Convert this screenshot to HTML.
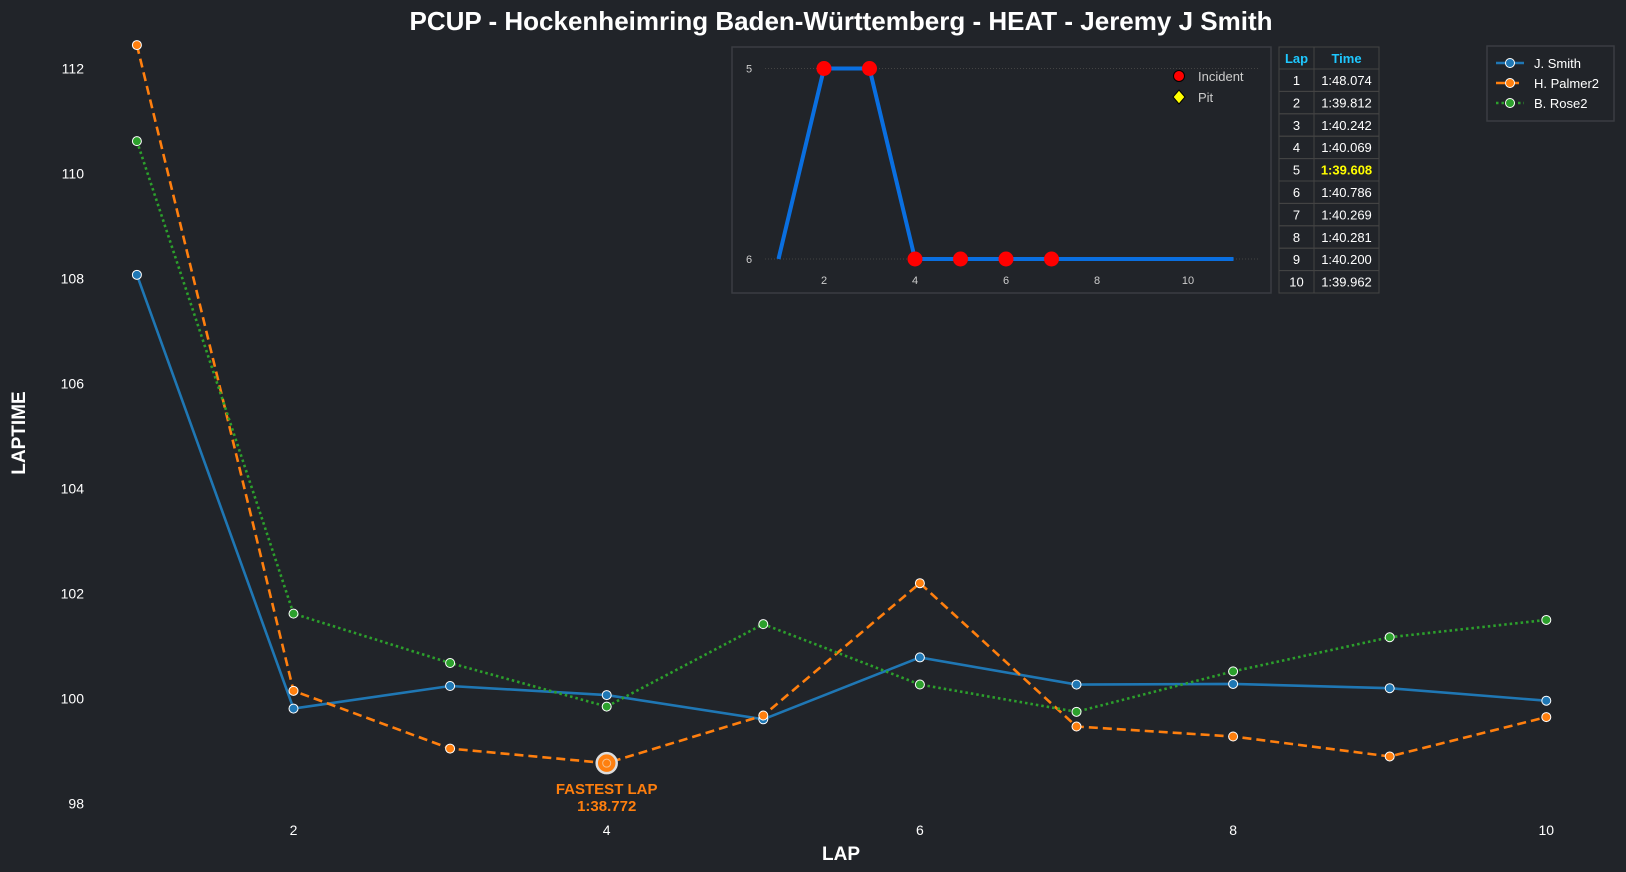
<!DOCTYPE html>
<html><head><meta charset="utf-8"><style>
body{margin:0;background:#212429;}
svg{display:block;font-family:"Liberation Sans",sans-serif;}
</style></head><body>
<svg id="c" width="1626" height="872" viewBox="0 0 1626 872">
<rect width="1626" height="872" fill="#212429"/>
<text x="841" y="30" text-anchor="middle" font-size="26" font-weight="bold" fill="#fff">PCUP - Hockenheimring Baden-Württemberg - HEAT - Jeremy J Smith</text>
<text transform="translate(25,433) rotate(-90)" text-anchor="middle" font-size="19" font-weight="bold" fill="#fff">LAPTIME</text>
<text x="841" y="860" text-anchor="middle" font-size="19" font-weight="bold" fill="#fff">LAP</text>
<g id="yt"></g><g id="xt"></g><g id="series"></g><g id="inset"></g><g id="tbl"></g><g id="leg"></g>
</svg>
<script>
const laps=[1,2,3,4,5,6,7,8,9,10];
const smith=[108.074,99.812,100.242,100.069,99.608,100.786,100.269,100.281,100.200,99.962];
const palmer=[112.45,100.15,99.05,98.772,99.68,102.2,99.47,99.28,98.9,99.65];
const rose=[110.62,101.62,100.68,99.85,101.42,100.27,99.75,100.52,101.17,101.5];
const yTicks=[98,100,102,104,106,108,110,112];
const xTicks=[2,4,6,8,10];
const insetLaps=[1,2,3,4,5,6,7,8,9,10,11];
const insetPos=[6,5,5,6,6,6,6,6,6,6,6];
const incidentLaps=[2,3,4,5,6,7];
const insetXTicks=[2,4,6,8,10];
const insetYTicks=[5,6];
const tableTimes=["1:48.074","1:39.812","1:40.242","1:40.069","1:39.608","1:40.786","1:40.269","1:40.281","1:40.200","1:39.962"];
const bestIdx=4;
const fastestLap=4, fastestVal=98.772, fastestLabel="1:38.772";

const NS="http://www.w3.org/2000/svg";
function mk(t,a,p,txt){const e=document.createElementNS(NS,t);for(const k in a)e.setAttribute(k,a[k]);if(txt!==undefined)e.textContent=txt;p.appendChild(e);return e;}
const X=l=>293.5+(l-2)*156.6;
const Y=v=>698.7-(v-100)*52.5;
const yt=document.getElementById('yt'),xt=document.getElementById('xt'),sg=document.getElementById('series');
yTicks.forEach(v=>{const t=mk('text',{x:84,y:Y(v)+5,'text-anchor':'end','font-size':14,fill:'#fff'},yt,v);

});
xTicks.forEach(v=>{const t=mk('text',{x:X(v),y:835,'text-anchor':'middle','font-size':14,fill:'#fff'},xt,v);

});
const ser=[[smith,'#1f77b4','','j-smith'],[palmer,'#ff7f0e','9 5','h-palmer2'],[rose,'#2ca02c','2.5 3','b-rose2']];
ser.forEach(([d,c,da,n])=>{
 const p=mk('polyline',{points:d.map((v,i)=>X(laps[i])+','+Y(v)).join(' '),fill:'none',stroke:c,'stroke-width':2.6,'stroke-dasharray':da},sg);
 
 
 d.forEach((v,i)=>{const m=mk('circle',{cx:X(laps[i]),cy:Y(v),r:4.5,fill:c,stroke:'#fff','stroke-width':1},sg);
 
 });
});
const fm=mk('circle',{cx:X(fastestLap),cy:Y(fastestVal),r:10,fill:'#ff7f0e',stroke:'#ddd','stroke-width':2.5},sg);


mk('circle',{cx:X(fastestLap),cy:Y(fastestVal),r:4,fill:'#ff7f0e',stroke:'#f6c08a','stroke-width':1},sg);
const ft=mk('text',{x:X(fastestLap),y:Y(fastestVal)+31,'text-anchor':'middle','font-size':15,'font-weight':'bold',fill:'#ff7f0e'},sg,'FASTEST LAP');


const fv=mk('text',{x:X(fastestLap),y:Y(fastestVal)+48,'text-anchor':'middle','font-size':15,'font-weight':'bold',fill:'#ff7f0e'},sg,fastestLabel);


// inset
const ig=document.getElementById('inset');
const IX=l=>824+(l-2)*45.5, IY=p=>68.5+(p-5)*190.5;
const ib=mk('rect',{x:732,y:47,width:539,height:246,fill:'#212429',stroke:'#3a3d42','stroke-width':1.5},ig);


insetYTicks.forEach(p=>{mk('line',{x1:765,x2:1258,y1:IY(p),y2:IY(p),stroke:'#444','stroke-dasharray':'1 2'},ig);
const t=mk('text',{x:749,y:IY(p)+4,'text-anchor':'middle','font-size':11,fill:'#ccc'},ig,p);

});
insetXTicks.forEach(l=>{const t=mk('text',{x:IX(l),y:284,'text-anchor':'middle','font-size':11,fill:'#ccc'},ig,l);

});
const il=mk('polyline',{points:insetPos.map((p,i)=>IX(insetLaps[i])+','+IY(p)).join(' '),fill:'none',stroke:'#0a6fe0','stroke-width':4},ig);


incidentLaps.forEach(l=>{const c=mk('circle',{cx:IX(l),cy:IY(insetPos[insetLaps.indexOf(l)]),r:7.5,fill:'#ff0000'},ig);

});
mk('circle',{cx:1179,cy:76,r:5.5,fill:'#ff0000',stroke:'#000'},ig);
const li=mk('text',{x:1198,y:81,'font-size':13,fill:'#ccc'},ig,'Incident');


mk('polygon',{points:'1179,90 1185,97 1179,104 1173,97',fill:'#ffff00',stroke:'#000'},ig);
const lp=mk('text',{x:1198,y:102,'font-size':13,fill:'#ccc'},ig,'Pit');


// table
const tg=document.getElementById('tbl');
const rh=22.4,ty=47;
mk('rect',{x:1279,y:ty,width:100,height:22,fill:'none',stroke:'#444'},tg);
const h1=mk('text',{x:1296.5,y:ty+16,'text-anchor':'middle','font-size':13,'font-weight':'bold',fill:'#1ec8ff'},tg,'Lap');


const h2=mk('text',{x:1346.5,y:ty+16,'text-anchor':'middle','font-size':13,'font-weight':'bold',fill:'#1ec8ff'},tg,'Time');


tableTimes.forEach((t,i)=>{const y=ty+22+i*rh;
 mk('rect',{x:1279,y:y,width:35,height:rh,fill:'none',stroke:'#444'},tg);
 mk('rect',{x:1314,y:y,width:65,height:rh,fill:'none',stroke:'#444'},tg);
 const a=mk('text',{x:1296.5,y:y+16,'text-anchor':'middle','font-size':13,fill:'#fff'},tg,i+1);
 
 
 const b=mk('text',{x:1346.5,y:y+16,'text-anchor':'middle','font-size':13,fill:i===bestIdx?'#ffff00':'#fff','font-weight':i===bestIdx?'bold':'normal'},tg,t);
 
 });
mk('line',{x1:1314,x2:1314,y1:ty,y2:ty+22,stroke:'#444'},tg);
// legend
const lg=document.getElementById('leg');
const lb=mk('rect',{x:1487,y:46,width:127,height:75,fill:'#212429',stroke:'#3a3d42','stroke-width':1.5},lg);


const names=['J. Smith','H. Palmer2','B. Rose2'];
ser.forEach(([d,c,da,n],i)=>{const y=63+i*20;
 mk('line',{x1:1496,x2:1524,y1:y,y2:y,stroke:c,'stroke-width':2.6,'stroke-dasharray':da},lg);
 mk('circle',{cx:1510,cy:y,r:4.5,fill:c,stroke:'#fff'},lg);
 const t=mk('text',{x:1534,y:y+5,'font-size':13,fill:'#fff'},lg,names[i]);
 
 });
</script>
</body></html>
